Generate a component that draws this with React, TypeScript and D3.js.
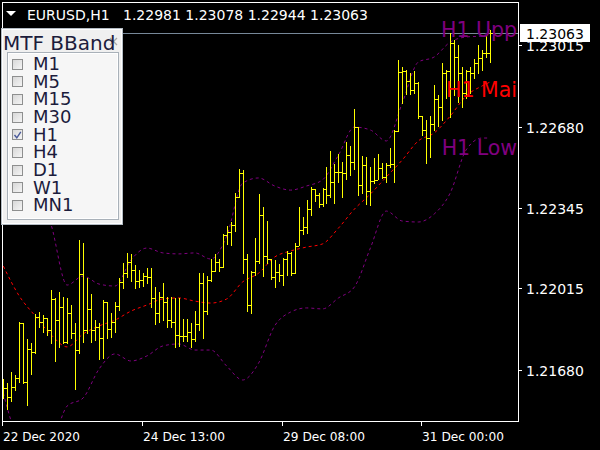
import React, { useEffect } from "react";
import * as d3 from "d3";

const symbolLabel = "EURUSD,H1";

const opens = [
  1.21606, 1.21606, 1.21569, 1.2161, 1.21647, 1.21873, 1.21631, 1.21766, 1.21754, 1.21898,
  1.21877, 1.21894, 1.21844, 1.21972, 1.21885, 1.21939, 1.21795, 1.21914, 1.21832, 1.21762,
  1.22074, 1.21844, 1.21931, 1.21844, 1.21857, 1.21811, 1.21959, 1.21848, 1.21877, 1.21943,
  1.22042, 1.22078, 1.22124, 1.22091, 1.22046, 1.2205, 1.22066, 1.22062, 1.21976, 1.21914,
  1.2198, 1.21959, 1.21885, 1.21877, 1.21824, 1.2182, 1.2182, 1.21836, 1.21807, 1.21869,
  1.22037, 1.21922, 1.2205, 1.22087, 1.22124, 1.22103, 1.22235, 1.22247, 1.22276, 1.22391,
  1.22489, 1.22136, 1.21947, 1.22083, 1.22128, 1.22317, 1.22148, 1.22136, 1.22062, 1.22083,
  1.2207, 1.22136, 1.22161, 1.22078, 1.22189, 1.22255, 1.22267, 1.22341, 1.22424, 1.22399,
  1.22362, 1.22424, 1.22399, 1.22452, 1.22493, 1.22493, 1.22489, 1.22563, 1.22534, 1.22678,
  1.2244, 1.22522, 1.22415, 1.22456, 1.22461, 1.2251, 1.22473, 1.22522, 1.22526, 1.22662,
  1.22904, 1.22908, 1.22867, 1.2283, 1.22859, 1.22723, 1.22666, 1.22633, 1.22691, 1.22793,
  1.2276, 1.229, 1.22908, 1.23023, 1.22966, 1.229, 1.22818, 1.22908, 1.229, 1.22941,
  1.22962, 1.22982, 1.22981,
];

const highs = [
  1.21643, 1.21627, 1.21672, 1.2166, 1.21877, 1.21873, 1.21807, 1.21791, 1.2191, 1.21918,
  1.21906, 1.21894, 1.22009, 1.21976, 1.22, 1.2198, 1.21976, 1.21947, 1.21873, 1.22214,
  1.22202, 1.22058, 1.21992, 1.21885, 1.21873, 1.21968, 1.21959, 1.21914, 1.21959, 1.22058,
  1.2212, 1.22161, 1.22157, 1.22111, 1.22091, 1.22078, 1.22099, 1.22099, 1.22021, 1.22,
  1.22037, 1.2198, 1.2198, 1.21976, 1.21976, 1.2189, 1.2189, 1.21873, 1.21922, 1.22078,
  1.22078, 1.22066, 1.22136, 1.22157, 1.22136, 1.22239, 1.22272, 1.22288, 1.22407, 1.22506,
  1.22502, 1.22157, 1.22087, 1.22222, 1.22403, 1.2235, 1.22292, 1.22136, 1.22132, 1.22115,
  1.2214, 1.22169, 1.22165, 1.22202, 1.2235, 1.22309, 1.22378, 1.22432, 1.22424, 1.22407,
  1.22428, 1.22514, 1.2258, 1.22526, 1.22567, 1.22534, 1.22617, 1.226, 1.22752, 1.22678,
  1.22559, 1.22555, 1.22514, 1.22551, 1.22567, 1.2253, 1.2253, 1.22592, 1.22666, 1.22954,
  1.22925, 1.22912, 1.229, 1.22908, 1.22863, 1.22723, 1.22707, 1.22723, 1.22851, 1.2281,
  1.22941, 1.22912, 1.23064, 1.23036, 1.23015, 1.22925, 1.22912, 1.22925, 1.22958, 1.23015,
  1.22995, 1.23052, 1.23078,
];

const lows = [
  1.21565, 1.2152, 1.21553, 1.21598, 1.21631, 1.21627, 1.21536, 1.21664, 1.2175, 1.21857,
  1.21836, 1.21824, 1.21791, 1.21717, 1.21775, 1.21791, 1.21791, 1.21811, 1.21602, 1.2175,
  1.21795, 1.21832, 1.21795, 1.21803, 1.21725, 1.21729, 1.21811, 1.21816, 1.21836, 1.21926,
  1.22017, 1.22062, 1.22046, 1.22017, 1.22021, 1.22025, 1.22037, 1.21939, 1.21869, 1.21877,
  1.21885, 1.21857, 1.21857, 1.21775, 1.21779, 1.21799, 1.21799, 1.21775, 1.21799, 1.21844,
  1.21811, 1.2191, 1.22045, 1.22087, 1.22087, 1.22103, 1.22198, 1.22194, 1.22251, 1.22391,
  1.22078, 1.21922, 1.21914, 1.2207, 1.2212, 1.22066, 1.2212, 1.22054, 1.22021, 1.22046,
  1.22029, 1.2207, 1.2207, 1.22078, 1.22194, 1.22239, 1.22243, 1.22317, 1.22374, 1.2235,
  1.22354, 1.22366, 1.22391, 1.22366, 1.22452, 1.22391, 1.22465, 1.22481, 1.22506, 1.22399,
  1.22407, 1.22362, 1.22358, 1.22448, 1.22465, 1.22469, 1.22452, 1.22514, 1.22452, 1.22662,
  1.22777, 1.22814, 1.22814, 1.22818, 1.22715, 1.22645, 1.2253, 1.22555, 1.22666, 1.22682,
  1.22707, 1.22797, 1.22719, 1.2281, 1.22781, 1.2276, 1.22797, 1.22818, 1.2288, 1.229,
  1.22912, 1.22966, 1.22944,
];

const closes = [
  1.21606, 1.21569, 1.2161, 1.21647, 1.21873, 1.21631, 1.21766, 1.21754, 1.21898, 1.21877,
  1.21894, 1.21844, 1.21972, 1.21885, 1.21939, 1.21795, 1.21914, 1.21832, 1.21762, 1.22074,
  1.21844, 1.21931, 1.21844, 1.21857, 1.21811, 1.21959, 1.21848, 1.21877, 1.21943, 1.22042,
  1.22078, 1.22124, 1.22091, 1.22046, 1.2205, 1.22066, 1.22062, 1.21976, 1.21914, 1.2198,
  1.21959, 1.21885, 1.21877, 1.21824, 1.2182, 1.2182, 1.21836, 1.21807, 1.21869, 1.22037,
  1.21922, 1.2205, 1.22087, 1.22124, 1.22103, 1.22235, 1.22247, 1.22276, 1.22391, 1.22489,
  1.22136, 1.21947, 1.22083, 1.22128, 1.22317, 1.22148, 1.22136, 1.22062, 1.22083, 1.2207,
  1.22136, 1.22161, 1.22078, 1.22189, 1.22255, 1.22267, 1.22341, 1.22424, 1.22399, 1.22362,
  1.22424, 1.22399, 1.22452, 1.22493, 1.22493, 1.22489, 1.22563, 1.22534, 1.22678, 1.2244,
  1.22522, 1.22415, 1.22456, 1.22461, 1.2251, 1.22473, 1.22522, 1.22526, 1.22662, 1.22904,
  1.22908, 1.22867, 1.2283, 1.22859, 1.22723, 1.22666, 1.22633, 1.22691, 1.22793, 1.2276,
  1.229, 1.22908, 1.23023, 1.22966, 1.229, 1.22818, 1.22908, 1.229, 1.22941, 1.22962,
  1.22982, 1.22981, 1.23063,
];

const bandBars = [
  0, 4, 8, 12, 16, 20, 24, 28, 32, 36, 40, 44, 48, 52, 56, 60, 64, 68, 72, 76, 80, 84, 88,
  92, 96, 100, 104, 108, 112, 116, 120, 122,
];
const upperBand = [
  1.22629, 1.22576, 1.22452, 1.22276, 1.22029, 1.22066, 1.22033, 1.22025, 1.22132, 1.22181,
  1.22161, 1.22157, 1.22161, 1.22136, 1.22231, 1.22448, 1.22469, 1.22436, 1.22419, 1.22436,
  1.22461, 1.22563, 1.22678, 1.22666, 1.22621, 1.22777, 1.22945, 1.22966, 1.23027, 1.23048,
  1.23052, 1.23081,
];
const middleBand = [
  1.22107, 1.21984, 1.21902, 1.21824, 1.21775, 1.21828, 1.21861, 1.21885, 1.21922, 1.21947,
  1.21972, 1.21976, 1.21963, 1.21955, 1.21972, 1.22042, 1.22078, 1.22144, 1.22169, 1.22185,
  1.22198, 1.22263, 1.22341, 1.22403, 1.22473, 1.22543, 1.22621, 1.22654, 1.22723, 1.22806,
  1.22847, 1.22863,
];
const lowerBand = [
  1.21586, 1.21392, 1.21351, 1.2138, 1.21532, 1.21565, 1.21684, 1.21746, 1.21717, 1.21738,
  1.21779, 1.21787, 1.21762, 1.21762, 1.21696, 1.21639, 1.21709, 1.21861, 1.21918, 1.21935,
  1.21931, 1.21976, 1.22021, 1.22181, 1.22333, 1.22292, 1.22288, 1.22321, 1.22407, 1.22584,
  1.22633, 1.22633,
];

const priceTicks = [1.23015, 1.2268, 1.22345, 1.22015, 1.2168];
const timeTickBars = [0, 35, 70, 105];
const timeTickLabels = ["22 Dec 2020", "24 Dec 13:00", "29 Dec 08:00", "31 Dec 00:00"];
const panelTitle = "MTF BBand";
const panelItems = ["M1", "M5", "M15", "M30", "H1", "H4", "D1", "W1", "MN1"];
const checkedItems = ["H1"];
const bandLabels = ["H1 Upp", "H1 Mai", "H1 Low"];
const bandLabelPrices = [1.23077, 1.22832, 1.22594];
const bandLabelColors = ["#800080", "#ff0000", "#800080"];

const FONT = "'DejaVu Sans', Verdana, sans-serif";

export default function App() {
  useEffect(() => {
    document.body.style.margin = "0";
    document.body.style.background = "#000";
  }, []);

  const W = 600;
  const H = 450;
  const left = 2;
  const right = 518;
  const top = 2;
  const bottom = 421;
  const n = closes.length;
  const last = n - 1;

  const x = d3.scaleLinear().domain([0, last]).range([3.3, 3.3 + last * 3.99]);
  const y = d3.scaleLinear().domain([1.214705, 1.231918]).range([bottom, top]);

  const bandLine = d3
    .line<number>()
    .x((_, i) => x(bandBars[i]))
    .y((v) => y(v))
    .curve(d3.curveMonotoneX);

  const fmt = (v: number) => v.toFixed(5);
  const headerValues = [opens[last], highs[last], lows[last], closes[last]].map(fmt).join(" ");
  const lastY = Math.round(y(closes[last])) + 0.5;

  return (
    <svg
      width={W}
      height={H}
      viewBox={`0 0 ${W} ${H}`}
      style={{ display: "block", background: "#000" }}
      fontFamily={FONT}
    >
      <defs>
        <clipPath id="plot">
          <rect x={left + 1} y={top + 1} width={right - left - 1} height={bottom - top - 1} />
        </clipPath>
        <linearGradient id="cb" x1="0" y1="0" x2="1" y2="1">
          <stop offset="0" stopColor="#d6d6d6" />
          <stop offset="1" stopColor="#f6f6f6" />
        </linearGradient>
      </defs>
      <rect x={0} y={0} width={W} height={H} fill="#000" />

      {/* current price line */}
      <line x1={left + 1} x2={right} y1={lastY} y2={lastY} stroke="#778899" strokeWidth={1} />

      <g clipPath="url(#plot)">
        {/* bands */}
        <path d={bandLine(upperBand) || ""} fill="none" stroke="#800080" strokeWidth={1} strokeDasharray="3,3" />
        <path d={bandLine(lowerBand) || ""} fill="none" stroke="#800080" strokeWidth={1} strokeDasharray="3,3" />
        <path d={bandLine(middleBand) || ""} fill="none" stroke="#ff0000" strokeWidth={1} strokeDasharray="3,3" />

        {/* OHLC bars */}
        <g shapeRendering="crispEdges" fill="#ffff00">
          {closes.map((c, i) => {
            const bx = Math.round(x(i));
            const yh = Math.round(y(highs[i]));
            const yl = Math.round(y(lows[i]));
            const yo = Math.round(y(opens[i]));
            const yc = Math.round(y(c));
            return (
              <g key={i}>
                <rect x={bx} y={yh} width={1} height={Math.max(1, yl - yh + 1)} />
                <rect x={bx - 2} y={yo} width={2} height={1} />
                <rect x={bx + 1} y={yc} width={2} height={1} />
              </g>
            );
          })}
        </g>

        {/* band labels */}
        {bandLabels.map((t, i) => (
          <text
            key={t}
            x={right - 1}
            y={y(bandLabelPrices[i]) + 7.5}
            textAnchor="end"
            fontSize={20.5}
            fill={bandLabelColors[i]}
          >
            {t}
          </text>
        ))}
      </g>

      {/* frame */}
      <rect
        x={left + 0.5}
        y={top + 0.5}
        width={right - left}
        height={bottom - top}
        fill="none"
        stroke="#fff"
        strokeWidth={1}
        shapeRendering="crispEdges"
      />

      {/* price axis */}
      {priceTicks.map((p) => {
        const ty = Math.round(y(p)) + 0.5;
        return (
          <g key={p}>
            <line x1={right + 1} x2={right + 4} y1={ty} y2={ty} stroke="#fff" shapeRendering="crispEdges" />
            <text x={526} y={ty + 5.5} fontSize={14} fill="#fff">
              {fmt(p)}
            </text>
          </g>
        );
      })}

      {/* current price box */}
      <rect x={520} y={lastY - 9.5} width={70} height={18} fill="#fff" />
      <text x={526} y={lastY + 5} fontSize={14} fill="#000">
        {fmt(closes[last])}
      </text>

      {/* time axis */}
      {timeTickBars.map((b, i) => {
        const tx = Math.round(x(b)) - 1 + 0.5;
        return (
          <g key={b}>
            <line x1={tx} x2={tx} y1={bottom} y2={bottom + 5} stroke="#fff" shapeRendering="crispEdges" />
            <text x={tx + 0.5} y={441} fontSize={13} fill="#fff" textLength={i === 0 ? 77 : 82} lengthAdjust="spacingAndGlyphs">
              {timeTickLabels[i]}
            </text>
          </g>
        );
      })}

      {/* header */}
      <path d="M6,11 L16,11 L11,16 Z" fill="#fff" />
      <text x={27} y={20} fontSize={14} fill="#fff">
        {symbolLabel}
      </text>
      <text x={123} y={20} fontSize={14} fill="#fff">
        {headerValues}
      </text>

      {/* MTF panel */}
      <g>
        <rect x={1.5} y={28.5} width={121} height={196} fill="#f0f0f0" stroke="#b4bcc4" />
        <rect x={2.5} y={29.5} width={119} height={194} fill="none" stroke="#ffffff" />
        <g stroke="#a8a8a8" strokeWidth={1.3}>
          <line x1={110} y1={38} x2={117} y2={45} />
          <line x1={117} y1={38} x2={110} y2={45} />
        </g>
        <text x={3} y={50} fontSize={20} fill="#1c1c3c">
          {panelTitle}
        </text>
        <rect x={7.5} y={52.5} width={111} height={167} fill="#f6f6f6" stroke="#a9b1b9" />
        <rect x={8.5} y={53.5} width={109} height={165} fill="none" stroke="#ffffff" />
        {panelItems.map((it, k) => {
          const cy = 58.5 + k * 17.7;
          const checked = checkedItems.includes(it);
          return (
            <g key={it}>
              <rect x={12.5} y={Math.round(cy) + 0.5} width={10} height={10} fill="url(#cb)" stroke="#8e8f8f" />
              {checked && (
                <path
                  d={`M14.5,${Math.round(cy) + 6} L16.8,${Math.round(cy) + 8.8} L20.8,${Math.round(cy) + 2.8}`}
                  fill="none"
                  stroke="#4a5a9a"
                  strokeWidth={1.4}
                />
              )}
              <text x={33} y={70 + k * 17.65} fontSize={18} fill="#1c1c3c">
                {it}
              </text>
            </g>
          );
        })}
      </g>
    </svg>
  );
}
